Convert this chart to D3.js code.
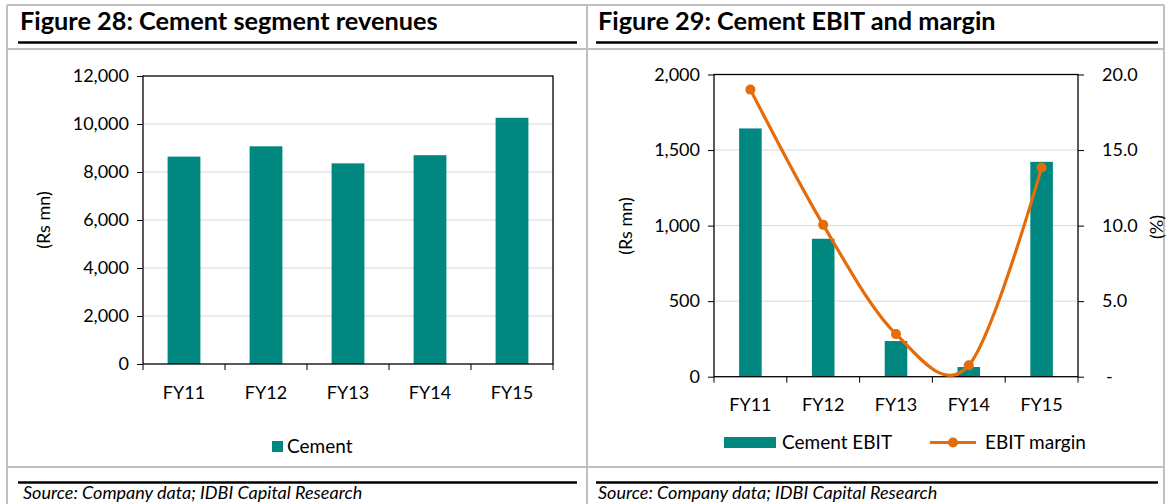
<!DOCTYPE html>
<html>
<head>
<meta charset="utf-8">
<script src="https://cdn.jsdelivr.net/npm/d3@7"></script>
<style>
  body { margin: 0; background: #fff; }
  svg { display: block; font-family: Lato, 'Open Sans', sans-serif; }
</style>
</head>
<body>
<svg width="1170" height="504"></svg>
<script>
var years = ['FY11', 'FY12', 'FY13', 'FY14', 'FY15'];
var revenue = [8640, 9070, 8360, 8700, 10260];
var ebit = [1643, 913, 236, 64, 1422];
var margin = [19.0, 10.05, 2.82, 0.75, 13.85];
var revTicks = [0, 2000, 4000, 6000, 8000, 10000, 12000];
var ebitTicks = [0, 500, 1000, 1500, 2000];
var marginTicks = [0, 5, 10, 15, 20];

var teal = '#00877f';
var orange = '#e46c0a';
var grid = '#d9d9d9';
var frame = '#c0c0c0';

function drawFrame(svg) {
  'use strict';
  // grey panel boxes
  [[7, 5, 1164, 5], [7, 49, 1164, 49], [7, 467, 1164, 467],
   [7, 5, 7, 504], [587, 5, 587, 504], [1164, 5, 1164, 504]].forEach(function (l) {
    svg.append('line')
      .attr('x1', l[0]).attr('y1', l[1]).attr('x2', l[2]).attr('y2', l[3])
      .attr('stroke', frame).attr('stroke-width', 2);
  });
  // black rules under titles and above sources
  [[18, 577], [596, 1158]].forEach(function (r) {
    [42.5, 482.5].forEach(function (y) {
      svg.append('line')
        .attr('x1', r[0]).attr('x2', r[1]).attr('y1', y).attr('y2', y)
        .attr('stroke', '#000').attr('stroke-width', 2.4);
    });
  });
  svg.append('text').attr('x', 20).attr('y', 30)
    .attr('font-size', 25.3).attr('font-weight', 700)
    .text('Figure 28: Cement segment revenues');
  svg.append('text').attr('x', 598).attr('y', 30)
    .attr('font-size', 25.3).attr('font-weight', 700)
    .text('Figure 29: Cement EBIT and margin');
  [23, 598].forEach(function (x) {
    svg.append('text').attr('x', x).attr('y', 499)
      .attr('font-size', 18).attr('font-style', 'italic')
      .text('Source: Company data; IDBI Capital Research');
  });
}

function drawRevenue(svg) {
  'use strict';
  var left = 143, right = 553, top = 76, bottom = 364;
  var x = d3.scaleBand().domain(years).range([left, right]);
  var y = d3.scaleLinear().domain([0, 12000]).range([bottom, top]);
  var g = svg.append('g');

  g.selectAll('.grid').data(revTicks.slice(1, -1)).enter()
    .append('line')
    .attr('x1', left).attr('x2', right)
    .attr('y1', function (d) { return y(d); })
    .attr('y2', function (d) { return y(d); })
    .attr('stroke', grid).attr('stroke-width', 1);

  var bw = x.bandwidth() * 0.4;
  g.selectAll('.bar').data(revenue).enter()
    .append('rect')
    .attr('x', function (d, i) { return x(years[i]) + (x.bandwidth() - bw) / 2; })
    .attr('y', function (d) { return y(d); })
    .attr('width', bw)
    .attr('height', function (d) { return bottom - y(d); })
    .attr('fill', teal);

  // plot border
  g.append('rect')
    .attr('x', left).attr('y', top).attr('width', right - left).attr('height', bottom - top)
    .attr('fill', 'none').attr('stroke', '#000').attr('stroke-width', 1.3);

  var yAxis = g.append('g').attr('transform', 'translate(' + left + ',0)')
    .call(d3.axisLeft(y).tickValues(revTicks).tickSize(6).tickPadding(8)
      .tickFormat(d3.format(',')));
  yAxis.select('.domain').remove();
  yAxis.selectAll('line').attr('stroke', '#000');
  yAxis.selectAll('text').attr('font-size', 18).attr('font-family', 'Lato').attr('fill', '#000');

  var xTicks = years.map(function (d) { return x(d); }).concat([right]);
  g.selectAll('.xt').data(xTicks).enter()
    .append('line')
    .attr('x1', function (d) { return d; }).attr('x2', function (d) { return d; })
    .attr('y1', bottom).attr('y2', bottom + 6)
    .attr('stroke', '#000');
  g.selectAll('.xl').data(years).enter()
    .append('text')
    .attr('x', function (d) { return x(d) + x.bandwidth() / 2; })
    .attr('y', 399)
    .attr('text-anchor', 'middle')
    .attr('font-size', 18)
    .text(function (d) { return d; });

  g.append('text')
    .attr('transform', 'translate(50,220) rotate(-90)')
    .attr('text-anchor', 'middle')
    .attr('font-size', 18)
    .text('(Rs mn)');

  g.append('rect').attr('x', 272).attr('y', 441).attr('width', 11).attr('height', 11).attr('fill', teal);
  g.append('text').attr('x', 287).attr('y', 453).attr('font-size', 19).text('Cement');
}

function drawEbit(svg) {
  'use strict';
  var left = 714, right = 1078, top = 74.5, bottom = 376.7;
  var x = d3.scaleBand().domain(years).range([left, right]);
  var y = d3.scaleLinear().domain([0, 2000]).range([bottom, top]);
  var y2 = d3.scaleLinear().domain([0, 20]).range([bottom, top]);
  var g = svg.append('g');

  g.selectAll('.grid').data(ebitTicks.slice(1, -1)).enter()
    .append('line')
    .attr('x1', left).attr('x2', right)
    .attr('y1', function (d) { return y(d); })
    .attr('y2', function (d) { return y(d); })
    .attr('stroke', grid).attr('stroke-width', 1);

  var bw = x.bandwidth() * 0.31;
  g.selectAll('.bar').data(ebit).enter()
    .append('rect')
    .attr('x', function (d, i) { return x(years[i]) + (x.bandwidth() - bw) / 2; })
    .attr('y', function (d) { return y(d); })
    .attr('width', bw)
    .attr('height', function (d) { return bottom - y(d); })
    .attr('fill', teal);

  g.append('rect')
    .attr('x', left).attr('y', top).attr('width', right - left).attr('height', bottom - top)
    .attr('fill', 'none').attr('stroke', '#000').attr('stroke-width', 1.3);

  var line = d3.line()
    .x(function (d, i) { return x(years[i]) + x.bandwidth() / 2; })
    .y(function (d) { return y2(d); })
    .curve(d3.curveCardinal.tension(0));
  g.append('path').datum(margin)
    .attr('d', line)
    .attr('fill', 'none').attr('stroke', orange).attr('stroke-width', 3.2)
    .attr('stroke-linecap', 'round');
  g.selectAll('.dot').data(margin).enter()
    .append('circle')
    .attr('cx', function (d, i) { return x(years[i]) + x.bandwidth() / 2; })
    .attr('cy', function (d) { return y2(d); })
    .attr('r', 5)
    .attr('fill', orange);

  var yAxis = g.append('g').attr('transform', 'translate(' + left + ',0)')
    .call(d3.axisLeft(y).tickValues(ebitTicks).tickSize(6).tickPadding(8)
      .tickFormat(d3.format(',')));
  yAxis.select('.domain').remove();
  yAxis.selectAll('line').attr('stroke', '#000');
  yAxis.selectAll('text').attr('font-size', 18).attr('font-family', 'Lato').attr('fill', '#000');

  var y2Axis = g.append('g').attr('transform', 'translate(' + right + ',0)')
    .call(d3.axisRight(y2).tickValues(marginTicks).tickSize(6).tickPadding(18)
      .tickFormat(function (d) { return d === 0 ? '-' : d3.format('.1f')(d); }));
  y2Axis.select('.domain').remove();
  y2Axis.selectAll('line').attr('stroke', '#000');
  y2Axis.selectAll('text').attr('font-size', 18).attr('font-family', 'Lato').attr('fill', '#000');
  y2Axis.selectAll('text').filter(function (d) { return d === 0; }).attr('dx', 4);

  var xTicks = years.map(function (d) { return x(d); }).concat([right]);
  g.selectAll('.xt').data(xTicks).enter()
    .append('line')
    .attr('x1', function (d) { return d; }).attr('x2', function (d) { return d; })
    .attr('y1', bottom).attr('y2', bottom + 6)
    .attr('stroke', '#000');
  g.selectAll('.xl').data(years).enter()
    .append('text')
    .attr('x', function (d) { return x(d) + x.bandwidth() / 2; })
    .attr('y', 411)
    .attr('text-anchor', 'middle')
    .attr('font-size', 18)
    .text(function (d) { return d; });

  g.append('text')
    .attr('transform', 'translate(632,226) rotate(-90)')
    .attr('text-anchor', 'middle')
    .attr('font-size', 18)
    .text('(Rs mn)');
  g.append('text')
    .attr('transform', 'translate(1163,227) rotate(-90)')
    .attr('text-anchor', 'middle')
    .attr('font-size', 18)
    .text('(%)');

  // legend
  g.append('rect').attr('x', 724).attr('y', 437).attr('width', 52).attr('height', 11).attr('fill', teal);
  g.append('text').attr('x', 782).attr('y', 449).attr('font-size', 19).text('Cement EBIT');
  g.append('line').attr('x1', 930).attr('x2', 976).attr('y1', 442.5).attr('y2', 442.5)
    .attr('stroke', orange).attr('stroke-width', 3);
  g.append('circle').attr('cx', 953).attr('cy', 442.5).attr('r', 5).attr('fill', orange);
  g.append('text').attr('x', 985).attr('y', 449).attr('font-size', 19).text('EBIT margin');
}

var svg = d3.select('svg');
drawFrame(svg);
drawRevenue(svg);
drawEbit(svg);
</script>
</body>
</html>
